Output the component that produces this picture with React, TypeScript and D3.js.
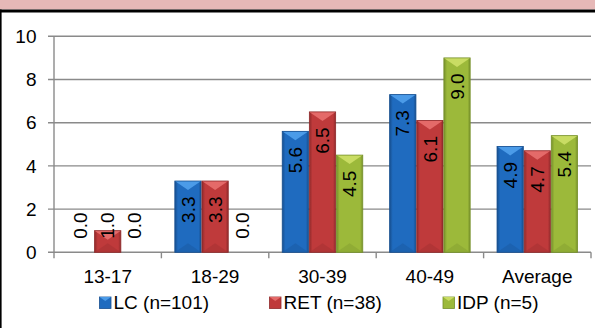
import React from "react";
import * as d3 from "d3";

const categories = ["13-17", "18-29", "30-39", "40-49", "Average"];
const seriesNames = ["LC (n=101)", "RET (n=38)", "IDP (n=5)"];
const lcValues = [0.0, 3.3, 5.6, 7.3, 4.9];
const retValues = [1.0, 3.3, 6.5, 6.1, 4.7];
const idpValues = [0.0, 0.0, 4.5, 9.0, 5.4];
const yTicks = [0, 2, 4, 6, 8, 10];

const seriesValues = [lcValues, retValues, idpValues];
const palette = [
  { base: "#1f6bbf", dark: "#174f8f", light: "#4b9be8", bottom: "#1a5ca6" },
  { base: "#bf3a3b", dark: "#8f2a2b", light: "#e46a69", bottom: "#a83233" },
  { base: "#9cb93a", dark: "#76902a", light: "#c9dc63", bottom: "#88a332" },
];

const FONT = "'Liberation Sans', Arial, sans-serif";

export default function App() {
  const W = 595, H = 328;
  const plotL = 54, plotR = 591, plotT = 36.3, plotB = 252.3;
  const x = d3.scaleBand<string>().domain(categories).range([plotL, plotR]).padding(0);
  const bw = x.bandwidth();
  const xs = d3.scaleBand<string>().domain(seriesNames).range([bw / 8, (bw * 7) / 8]).paddingInner(0.03);
  const y = d3.scaleLinear().domain([0, 10]).range([plotB, plotT]);
  const barW = xs.bandwidth();

  const legendX = [99.5, 269.5, 443];
  const boundaries = categories.map((c) => x(c) as number).concat([plotR]);

  return (
    <div style={{ position: "absolute", left: 0, top: 0 }}>
      <style>{"body{margin:0}"}</style>
      <svg width={W} height={H} style={{ display: "block", background: "#fff" }} fontFamily={FONT}>
        <defs>
          {palette.map((p, i) => (
            <linearGradient key={i} id={`g${i}`} x1="0" x2="1" y1="0" y2="0">
              <stop offset="0" stopColor={p.dark} />
              <stop offset="0.12" stopColor={p.base} />
              <stop offset="0.6" stopColor={p.base} />
              <stop offset="0.9" stopColor={p.base} />
              <stop offset="1" stopColor={p.dark} />
            </linearGradient>
          ))}
        </defs>
        {/* frame */}
        <rect x={0} y={0} width={W} height={9.5} fill="#e6b8b7" />
        <rect x={0} y={9.5} width={W} height={3} fill="#000" />
        <rect x={0} y={9.5} width={1.6} height={H} fill="#000" />

        {/* gridlines */}
        {yTicks.map((t) => (
          <g key={t}>
            <line x1={plotL - 6} x2={plotR} y1={y(t)} y2={y(t)} stroke="#8a8a8a" strokeWidth={1.4} />
            <text x={36.5} y={y(t)} dy="0.35em" textAnchor="end" fontSize={19} fill="#000">
              {t}
            </text>
          </g>
        ))}
        <line x1={plotL} x2={plotL} y1={plotT} y2={plotB} stroke="#8a8a8a" strokeWidth={1.4} />
        {boundaries.map((b, i) => (
          <line key={i} x1={b} x2={b} y1={plotB} y2={plotB + 6} stroke="#8a8a8a" strokeWidth={1.4} />
        ))}

        {/* bars */}
        {seriesNames.map((s, si) =>
          categories.map((c, ci) => {
            const v = seriesValues[si][ci];
            const bx = (x(c) as number) + (xs(s) as number);
            const top = y(v);
            const h = plotB - top;
            const p = palette[si];
            const tri = Math.min(9, h / 2);
            return (
              <g key={`${s}-${c}`}>
                {h > 0 && (
                  <g>
                    <rect x={bx} y={top} width={barW} height={h} fill={`url(#g${si})`} />
                    <polygon
                      points={`${bx},${top} ${bx + barW},${top} ${bx + barW / 2},${top + tri}`}
                      fill={p.light}
                    />
                    <polygon
                      points={`${bx},${plotB} ${bx + barW},${plotB} ${bx + barW / 2},${plotB - tri}`}
                      fill={p.bottom}
                      opacity={0.6}
                    />
                    <rect x={bx} y={top} width={barW} height={h} fill="none" stroke={p.dark} strokeWidth={0.8} />
                  </g>
                )}
              </g>
            );
          })
        )}
        {/* value labels */}
        {seriesNames.map((s, si) =>
          categories.map((c, ci) => {
            const v = seriesValues[si][ci];
            const cx = (x(c) as number) + (xs(s) as number) + barW / 2;
            const ly = Math.min(y(v) + 15.5, plotB - 40);
            return (
              <text
                key={`l-${s}-${c}`}
                transform={`translate(${cx},${ly}) rotate(-90)`}
                dy="0.35em"
                textAnchor="end"
                fontSize={19}
                fill="#000"
              >
                {v.toFixed(1)}
              </text>
            );
          })
        )}

        {/* x labels */}
        {categories.map((c) => (
          <text
            key={c}
            x={(x(c) as number) + bw / 2}
            y={276.7}
            dy="0.35em"
            textAnchor="middle"
            fontSize={19}
            fill="#000"
          >
            {c}
          </text>
        ))}

        {/* legend */}
        {seriesNames.map((s, si) => {
          const p = palette[si];
          const lx = legendX[si];
          return (
            <g key={s}>
              <rect x={lx} y={297} width={11.5} height={11.5} fill={p.base} stroke={p.dark} strokeWidth={0.8} />
              <polygon points={`${lx},297 ${lx + 11.5},297 ${lx + 5.75},301`} fill={p.light} />
              <text x={lx + 14} y={302.5} dy="0.35em" fontSize={19} fill="#000">
                {s}
              </text>
            </g>
          );
        })}
      </svg>
    </div>
  );
}
